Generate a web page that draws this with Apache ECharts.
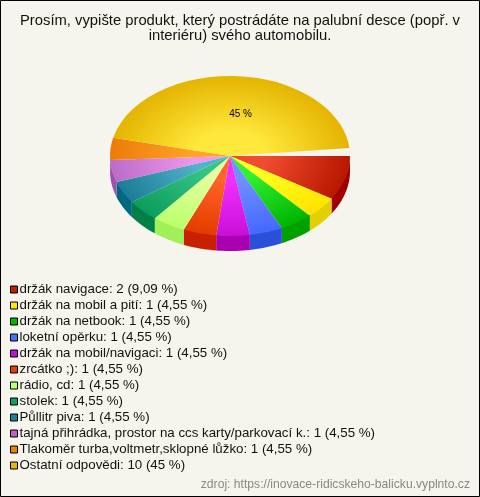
<!DOCTYPE html>
<html><head><meta charset="utf-8">
<style>html,body{margin:0;padding:0;background:#f5f5ed}#c{width:480px;height:497px}</style>
<script src="https://cdn.jsdelivr.net/npm/echarts@6/dist/echarts.min.js"></script>
</head><body><div id="c"></div>
<script>
const categories = ["držák navigace","držák na mobil a pití","držák na netbook","loketní opěrku","držák na mobil/navigaci","zrcátko ;)","rádio, cd","stolek","Půllitr piva","tajná přihrádka, prostor na ccs karty/parkovací k.","Tlakoměr turba,voltmetr,sklopné lůžko","Ostatní odpovědi"];
const counts = [2,1,1,1,1,1,1,1,1,1,1,10];
const percents = ["9,09","4,55","4,55","4,55","4,55","4,55","4,55","4,55","4,55","4,55","4,55","45"];
const innerColors = ["#f04c30","#ffff20","#30f030","#7090ff","#f030ff","#ff6428","#e4ffa0","#34c484","#50b4c8","#ec98ec","#ffa428","#ffe83c"];
const outerColors = ["#b81800","#ffe400","#00b400","#4468ff","#c810d8","#e43c00","#bcff6c","#0c9c5c","#1c7c98","#bc6cc8","#ec7c08","#e4b400"];
const wallColors  = ["#a00000","#e4d000","#00a000","#2850d8","#a800b0","#c82000","#a0f058","#008048","#006880","#a050b0","#c86000","#c09000"];
const legendColors= ["#c02000","#ffe800","#00b800","#4870ff","#c010d0","#e04000","#c0ff70","#10a060","#208098","#c060c0","#f08000","#e8b800"];
const title = "Prosím, vypište produkt, který postrádáte na palubní desce (popř. v\ninteriéru) svého automobilu.";
const source = "zdroj: https://inovace-ridicskeho-balicku.vyplnto.cz";
const unplottedShare = 0.36; // empty wedge left before the circle closes, in responses

const cx=230, cy=156, rx=120, ry=80, depth=15;
const total = counts.reduce((a,b)=>a+b,0)+unplottedShare;
const rad = v => v/total*Math.PI*2;
const starts = counts.map((_,i)=>counts.slice(0,i).reduce((a,b)=>a+b,0));

function renderSlice(i){
  return function(params, api){
    const a0 = rad(starts[i]), a1 = a0 + rad(api.value(0));
    const children = [];
    const w0 = Math.max(a0,0), w1 = Math.min(a1,Math.PI);
    if (w1 > w0){
      const top=[], bot=[], n=Math.ceil((w1-w0)/0.03);
      for(let k=0;k<=n;k++){
        const a=w0+(w1-w0)*k/n, x=cx+rx*Math.cos(a), y=cy+ry*Math.sin(a);
        top.push([x,y-1]); bot.unshift([x,y+depth]);
      }
      children.push({type:'polygon',shape:{points:top.concat(bot)},style:{fill:wallColors[i]}});
    }
    children.push({type:'sector',
      shape:{cx:cx,cy:cy,r:rx,r0:0,startAngle:a0,endAngle:a1,clockwise:true},
      originX:cx,originY:cy,scaleX:1,scaleY:ry/rx,
      style:{fill:{type:'radial',x:cx,y:cy,r:rx,global:true,
        colorStops:[{offset:0,color:innerColors[i]},{offset:0.3,color:innerColors[i]},{offset:1,color:outerColors[i]}]}}
    });
    if (counts[i]===Math.max.apply(null,counts)){
      const m=(a0+a1)/2;
      children.push({type:'text',x:cx+rx*0.525*Math.cos(m)+6.5,y:cy+ry*0.525*Math.sin(m),
        style:{text:percents[i]+" %",fill:"#000",font:"10px 'Liberation Sans'",align:'center',verticalAlign:'middle'},z2:50});
    }
    return {type:'group',children:children};
  };
}

const labels = categories.map((c,i)=>c+": "+counts[i]+" ("+percents[i]+" %)");
const chart = echarts.init(document.getElementById('c'),null,{renderer:'canvas'});
chart.setOption({
  animation:false,
  backgroundColor:"#f5f5ed",
  title:{text:title,left:240,top:13,padding:0,textAlign:'center',
    textStyle:{fontFamily:"Liberation Sans",fontSize:14.8,fontWeight:'normal',color:"#111",lineHeight:15.5}},
  legend:{orient:'vertical',left:10,top:283,padding:0,itemWidth:7,itemHeight:7,itemGap:3,selectedMode:false,
    icon:'rect',data:labels.map((n,i)=>({name:n,itemStyle:{color:legendColors[i],borderColor:"#000",borderWidth:1}})),
    textStyle:{fontFamily:"Liberation Sans",fontSize:13.3,color:"#111",lineHeight:12,padding:[0,0,0,-3]}},
  graphic:[
    {type:'rect',shape:{x:0.5,y:0.5,width:479,height:496},style:{fill:'none',stroke:'#000',lineWidth:1},silent:true},
    {type:'text',right:10,top:479,style:{text:source,fill:"#888",font:"12.15px 'Liberation Sans'"},silent:true}
  ],
  series:labels.map((n,i)=>({type:'custom',name:n,coordinateSystem:'none',
    data:[[counts[i]]],renderItem:renderSlice(i),itemStyle:{color:legendColors[i]}}))
});
</script></body></html>
